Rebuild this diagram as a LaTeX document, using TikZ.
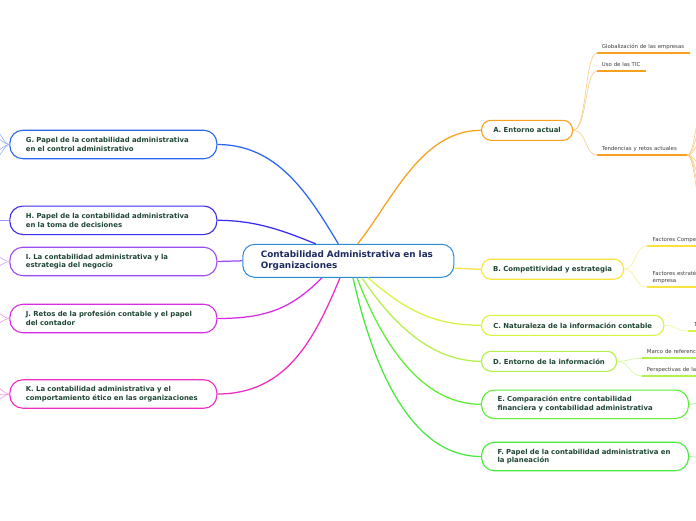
\documentclass[tikz,border=0pt]{standalone}
\usepackage{fontspec}
\setmainfont{DejaVu Sans}
\usetikzlibrary{calc}
\definecolor{cmain}{HTML}{2A8BD8}
\definecolor{cA}{HTML}{F7A11E}
\definecolor{cAl}{HTML}{FCCB86}
\definecolor{cB}{HTML}{FBE23C}
\definecolor{cBl}{HTML}{FCEE8E}
\definecolor{cC}{HTML}{D6F53F}
\definecolor{cCl}{HTML}{E8F99A}
\definecolor{cD}{HTML}{B2F04A}
\definecolor{cDl}{HTML}{D2F79A}
\definecolor{cE}{HTML}{5DEE36}
\definecolor{cEl}{HTML}{A6F590}
\definecolor{cF}{HTML}{48E93E}
\definecolor{cFl}{HTML}{9BF396}
\definecolor{cG}{HTML}{2B66F2}
\definecolor{cGl}{HTML}{93B2F8}
\definecolor{cH}{HTML}{3A2CF0}
\definecolor{cHl}{HTML}{9C94F7}
\definecolor{cI}{HTML}{9C4BF0}
\definecolor{cIl}{HTML}{CEA5F7}
\definecolor{cJ}{HTML}{D72BE5}
\definecolor{cJl}{HTML}{EB95F2}
\definecolor{cK}{HTML}{EE2BC2}
\definecolor{cKl}{HTML}{F695E0}
\definecolor{ttext}{HTML}{1E4634}
\definecolor{mtext}{HTML}{1D2C5E}
\definecolor{stext}{HTML}{3F3F3F}
\tikzset{
  mainbox/.style={draw=cmain, line width=1pt, rounded corners=12pt, fill=white, anchor=west,
    inner xsep=18pt, inner ysep=0pt, minimum height=33pt, text width=175pt, align=left,
    text=mtext, font=\bfseries\fontsize{8.85}{11}\selectfont},
  topic/.style={line width=1.1pt, fill=white, anchor=west, inner xsep=0pt, inner ysep=0pt,
    text=ttext, font=\bfseries\fontsize{6.9}{8.7}\selectfont},
  oneline/.style={topic, rounded corners=9.5pt, minimum height=20pt},
  twoline/.style={topic, rounded corners=13pt, minimum height=28.5pt, inner xsep=16pt,
    text width=175pt, align=left},
  subitem/.style={anchor=south west, inner xsep=5pt, inner ysep=4.5pt, text depth=0pt,
    align=left, text=stext, font=\fontsize{5.4}{7.4}\selectfont},
  trunk/.style={line width=1.25pt},
  twig/.style={line width=0.6pt},
  uline/.style={line width=1.8pt}
}
\begin{document}
\begin{tikzpicture}[x=1pt,y=-1pt]
\useasboundingbox (0,0) rectangle (696,520);
\fill[white] (0,0) rectangle (696,520);

% central node
\node[mainbox] (M) at (242.3,260.8) {\mbox{Contabilidad Administrativa en las}\\\mbox{Organizaciones}};

% right topics
\node[oneline, draw=cA, minimum width=91pt] (A) at (481,130.3) {A. Entorno actual};
\node[oneline, draw=cB, minimum width=142pt] (B) at (481,269.2) {B. Competitividad y estrategia};
\node[oneline, draw=cC, minimum width=182.3pt] (C) at (481,325.3) {C. Naturaleza de la información contable};
\node[oneline, draw=cD, minimum width=135pt] (D) at (481,361.3) {D. Entorno de la información};
\node[twoline, draw=cE] (E) at (481,404.3) {\mbox{E. Comparación entre contabilidad}\\\mbox{financiera y contabilidad administrativa}};
\node[twoline, draw=cF] (F) at (481,456.5) {\mbox{F. Papel de la contabilidad administrativa en}\\\mbox{la planeación}};

% left topics
\node[twoline, draw=cG] (G) at (9.3,144.5) {\mbox{G. Papel de la contabilidad administrativa}\\\mbox{en el control administrativo}};
\node[twoline, draw=cH] (H) at (9.3,220.3) {\mbox{H. Papel de la contabilidad administrativa}\\\mbox{en la toma de decisiones}};
\node[twoline, draw=cI] (I) at (9.3,261.5) {\mbox{I. La contabilidad administrativa y la}\\\mbox{estrategia del negocio}};
\node[twoline, draw=cJ] (J) at (9.3,318.5) {\mbox{J. Retos de la profesión contable y el papel}\\\mbox{del contador}};
\node[twoline, draw=cK] (K) at (9.3,394) {\mbox{K. La contabilidad administrativa y el}\\\mbox{comportamiento ético en las organizaciones}};

% subtopics
\node[subitem, text width=83pt] (a1) at (596.7,53.3) {\mbox{Globalización de las empresas}};
\node[subitem, text width=39.3pt] (a2) at (596.7,71.3) {\mbox{Uso de las TIC}};
\node[subitem, text width=80pt] (a3) at (596.7,155) {\mbox{Tendencias y retos actuales}};
\node[subitem, text width=80pt, inner xsep=5.5pt] (b1) at (647,245.7) {\mbox{Factores Compe}};
\node[subitem, text width=80pt, inner xsep=5.5pt, text depth=7.4pt] (b2) at (647,287.3) {\mbox{Factores estraté}\\\mbox{empresa}};
\node[subitem, text width=40pt, inner xsep=6pt] (c1) at (688,331) {T};
\node[subitem, text width=80pt] (d1) at (641.7,358.3) {\mbox{Marco de referenc}};
\node[subitem, text width=80pt] (d2) at (641.7,376) {\mbox{Perspectivas de la}};

\draw[uline,cA] (a1.south west) -- (a1.south east);
\draw[uline,cA] (a2.south west) -- (a2.south east);
\draw[uline,cA] (a3.south west) -- (a3.south east);
\draw[uline,cB] (b1.south west) -- (b1.south east);
\draw[uline,cB] (b2.south west) -- (b2.south east);
\draw[uline,cC] (c1.south west) -- (c1.south east);
\draw[uline,cD] (d1.south west) -- (d1.south east);
\draw[uline,cD] (d2.south west) -- (d2.south east);

% attachment points on the central node
\coordinate (mA) at ($(M.north west)+(115.4,0)$);
\coordinate (mG) at ($(M.north west)+(96,0)$);
\coordinate (mH) at ($(M.north west)+(73.4,0)$);
\coordinate (mB) at ($(M.east)+(0,7.5)$);
\coordinate (mJ) at ($(M.south west)+(79.7,0)$);
\coordinate (mK) at ($(M.south west)+(97.7,0)$);
\coordinate (mF) at ($(M.south west)+(110.7,0)$);
\coordinate (mE) at ($(M.south west)+(114.7,0)$);
\coordinate (mD) at ($(M.south west)+(119.7,0)$);
\coordinate (mC) at ($(M.south west)+(125.7,0)$);

% main connectors
\draw[trunk,cA] (mA) .. controls +(35,-44) and +(-60,0) .. (A.west);
\draw[trunk,cG] (mG) .. controls +(-30,-50) and +(60,0) .. (G.east);
\draw[trunk,cH] (mH) .. controls +(-30,-12) and +(40,0) .. (H.east);
\draw[trunk,cI] (M.west) -- (I.east);
\draw[trunk,cB] (mB) .. controls +(12,0) and +(-12,0) .. (B.west);
\draw[trunk,cJ] (mJ) .. controls +(-30,30) and +(50,0) .. (J.east);
\draw[trunk,cK] (mK) .. controls +(-25,60) and +(70,0) .. (K.east);
\draw[trunk,cF] (mF) .. controls +(20,90) and +(-70,0) .. (F.west);
\draw[trunk,cE] (mE) .. controls +(25,65) and +(-60,0) .. (E.west);
\draw[trunk,cD] (mD) .. controls +(30,45) and +(-50,0) .. (D.west);
\draw[trunk,cC] (mC) .. controls +(35,30) and +(-50,0) .. (C.west);

% twigs right
\foreach \s in {a1,a2,a3}
  \draw[twig,cAl] (A.east) .. controls +(14,0) and +(-12,0) .. (\s.south west);
\foreach \s in {b1,b2}
  \draw[twig,cBl] (B.east) .. controls +(12,0) and +(-12,0) .. (\s.south west);
\draw[twig,cCl] (C.east) .. controls +(12,0) and +(-12,0) .. (c1.south west);
\foreach \s in {d1,d2}
  \draw[twig,cDl] (D.east) .. controls +(12,0) and +(-12,0) .. (\s.south west);
\coordinate (e1) at (702,402);
\coordinate (f1) at (702,458);
\draw[twig,cEl] (E.east) .. controls +(8,0) and +(-6,0) .. (e1);
\draw[twig,cFl] (F.east) .. controls +(8,0) and +(-6,0) .. (f1);

% fan after "Tendencias y retos actuales"
\foreach \y [count=\i] in {110,126,141,166,180,194,207}{
  \coordinate (t\i) at (702,\y);
  \draw[twig,cAl] (a3.south east) .. controls +(8,0) and +(-6,0) .. (t\i);
}

% twigs left
\foreach \y [count=\i] in {131,138,151,158}{
  \coordinate (g\i) at (-4,\y);
  \draw[twig,cGl] (G.west) .. controls +(-5,0) and +(4,0) .. (g\i);
}
\coordinate (h1) at (-4,220.3);
\draw[twig,cHl] (H.west) -- (h1);
\foreach \y [count=\i] in {256,267}{
  \coordinate (i\i) at (-4,\y);
  \draw[twig,cIl] (I.west) .. controls +(-5,0) and +(4,0) .. (i\i);
}
\foreach \y [count=\i] in {312,324}{
  \coordinate (j\i) at (-4,\y);
  \draw[twig,cJl] (J.west) .. controls +(-5,0) and +(4,0) .. (j\i);
}
\foreach \y [count=\i] in {387,394,401}{
  \coordinate (k\i) at (-4,\y);
  \draw[twig,cKl] (K.west) .. controls +(-5,0) and +(4,0) .. (k\i);
}
\end{tikzpicture}
\end{document}
